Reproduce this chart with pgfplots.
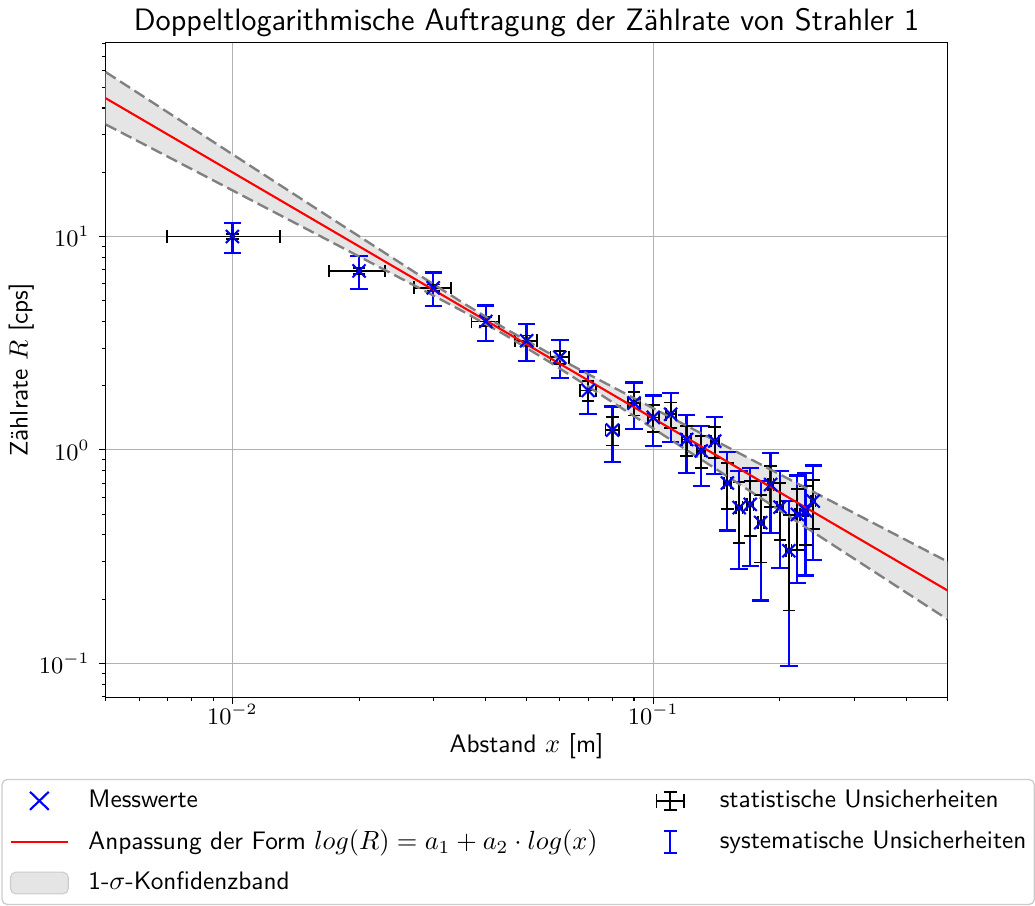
\documentclass[border=0pt]{standalone}
\usepackage{pgfplots}
\pgfplotsset{compat=1.18}
\usepgfplotslibrary{fillbetween}
\usepackage{pgfplotstable}
\renewcommand{\familydefault}{\sfdefault}

\pgfplotstableread{
x y xerr ystat ysys
0.01 10.0 0.003 0.25 1.6
0.02 6.9 0.003 0.22 1.2
0.03 5.75 0.003 0.21 1.03
0.04 4.0 0.003 0.20 0.75
0.05 3.25 0.003 0.19 0.63
0.06 2.72 0.003 0.20 0.55
0.07 1.9 0.003 0.20 0.43
0.08 1.24 0.003 0.19 0.36
0.09 1.66 0.003 0.21 0.41
0.10 1.42 0.003 0.21 0.38
0.11 1.47 0.003 0.20 0.38
0.12 1.12 0.003 0.18 0.34
0.13 0.99 0.003 0.17 0.31
0.14 1.10 0.003 0.18 0.33
0.15 0.70 0.003 0.17 0.28
0.16 0.537 0.003 0.17 0.26
0.17 0.556 0.003 0.16 0.27
0.18 0.457 0.003 0.16 0.26
0.19 0.689 0.003 0.15 0.28
0.20 0.54 0.003 0.16 0.26
0.21 0.337 0.003 0.16 0.24
0.22 0.499 0.003 0.16 0.26
0.23 0.518 0.003 0.16 0.26
0.24 0.576 0.003 0.15 0.27
}\data

\pgfplotstableread{
x upper lower
0.005 58.97 33.51
0.007079 37.80 23.47
0.01 24.30 16.46
0.01259 18.10 12.99
0.01778 11.645 9.108
0.02818 6.482 5.655
0.03548 4.859 4.437
0.04467 3.686 3.440
0.05623 2.858 2.609
0.07079 2.242 1.955
0.1122 1.392 1.089
0.1413 1.098 0.8116
0.1995 0.7701 0.5220
0.3162 0.4800 0.2895
0.5 0.3000 0.1610
}\band

\pgfplotstableread{
x y
0.005 44.46
0.5 0.2198
}\fit

\newcommand{\basefont}{\fontsize{9.6}{11.5}\selectfont}

\begin{document}
\begin{tikzpicture}
\begin{loglogaxis}[
  scale only axis, width=319.5pt, height=248.5pt,
  xmin=0.005, xmax=0.5, ymin=0.0694, ymax=81,
  title={Doppeltlogarithmische Auftragung der Zählrate von Strahler 1},
  title style={font=\fontsize{11.75}{14}\selectfont, yshift=-7.5pt},
  xlabel={Abstand $x$ [m]},
  ylabel={Zählrate $R$ [cps]},
  label style={font=\basefont},
  xlabel style={yshift=3.4pt},
  ylabel style={yshift=-5pt},
  tick label style={font=\fontsize{9.2}{11}\selectfont},
  xticklabel style={yshift=3.5pt},
  grid=major,
  major grid style={black!30, line width=0.4pt},
  tick align=outside,
  xtick pos=left, ytick pos=left,
  major tick length=2.6pt, minor tick length=1.5pt,
  tick style={black, line width=0.4pt},
  axis line style={line width=0.55pt},
  legend columns=2,
  legend cell align=left,
  legend style={at={(0.49,-0.1246)}, anchor=north, draw=black!20, rounded corners=2pt,
    fill=white, line width=0.5pt, row sep=3pt, font=\basefont, inner xsep=1pt,
    /tikz/every even column/.append style={column sep=16.8pt}},
]
% band
\addplot[name path=up, draw=none, forget plot] table[x=x, y=upper] {\band};
\addplot[name path=lo, draw=none, forget plot] table[x=x, y=lower] {\band};
\addplot[fill=black!10, draw=none, forget plot] fill between[of=up and lo];
% systematic error bars
\addplot[draw=none, mark=none, forget plot,
  error bars/.cd, y dir=both, y explicit,
  error bar style={draw=blue, line width=0.85pt},
  error mark options={rotate=90, draw=blue, mark size=3.3pt, line width=0.85pt}]
  table[x=x, y=y, y error=ysys] {\data};
% markers
\addplot[only marks, mark=x, mark size=3.5pt, mark options={draw=blue, line width=0.8pt}, forget plot]
  table[x=x, y=y] {\data};
% statistical error bars
\addplot[draw=none, mark=none, forget plot,
  error bars/.cd, x dir=both, x explicit, y dir=both, y explicit,
  error bar style={draw=black, line width=0.7pt},
  error mark options={rotate=90, draw=black, mark size=2.4pt, line width=0.7pt}]
  table[x=x, y=y, x error=xerr, y error=ystat] {\data};
% band edges
\addplot[gray, line width=0.9pt, dash pattern=on 4.5pt off 2pt, forget plot] table[x=x, y=upper] {\band};
\addplot[gray, line width=0.9pt, dash pattern=on 4.5pt off 2pt, forget plot] table[x=x, y=lower] {\band};
% fit
\addplot[red, line width=0.8pt, forget plot] table[x=x, y=y] {\fit};

% legend
\addlegendimage{legend image code/.code={
  \path (0cm,0cm) (1.03cm,0cm);
  \draw[blue, line width=0.8pt] (0.33cm,-0.12cm) -- (0.58cm,0.12cm) (0.33cm,0.12cm) -- (0.58cm,-0.12cm);}}
\addlegendentry{Messwerte}
\addlegendimage{legend image code/.code={
  \path (0cm,0cm) (0.88cm,0cm);
  \draw[black, line width=0.7pt] (0.115cm,0cm)--(0.485cm,0cm) (0.3cm,-0.12cm)--(0.3cm,0.12cm)
   (0.115cm,-0.09cm)--(0.115cm,0.09cm) (0.485cm,-0.09cm)--(0.485cm,0.09cm)
   (0.21cm,0.12cm)--(0.39cm,0.12cm) (0.21cm,-0.12cm)--(0.39cm,-0.12cm);}}
\addlegendentry{statistische Unsicherheiten}
\addlegendimage{legend image code/.code={
  \path (0cm,0cm) (1.03cm,0cm);
  \draw[red, line width=0.8pt] (0.07cm,0cm) -- (0.84cm,0cm);}}
\addlegendentry{Anpassung der Form $log(R) = a_1 + a_2\cdot log(x)$}
\addlegendimage{legend image code/.code={
  \path (0cm,0cm) (0.88cm,0cm);
  \draw[blue, line width=0.8pt] (0.3cm,-0.15cm)--(0.3cm,0.15cm)
   (0.215cm,0.15cm)--(0.385cm,0.15cm) (0.215cm,-0.15cm)--(0.385cm,-0.15cm);}}
\addlegendentry{systematische Unsicherheiten}
\addlegendimage{legend image code/.code={
  \path (0cm,0cm) (1.03cm,0cm);
  \draw[fill=black!10, draw=black!20, line width=0.4pt] (0.07cm,-0.145cm) rectangle (0.84cm,0.145cm);}}
\addlegendentry{1-$\sigma$-Konfidenzband}
\end{loglogaxis}
\end{tikzpicture}
\end{document}
